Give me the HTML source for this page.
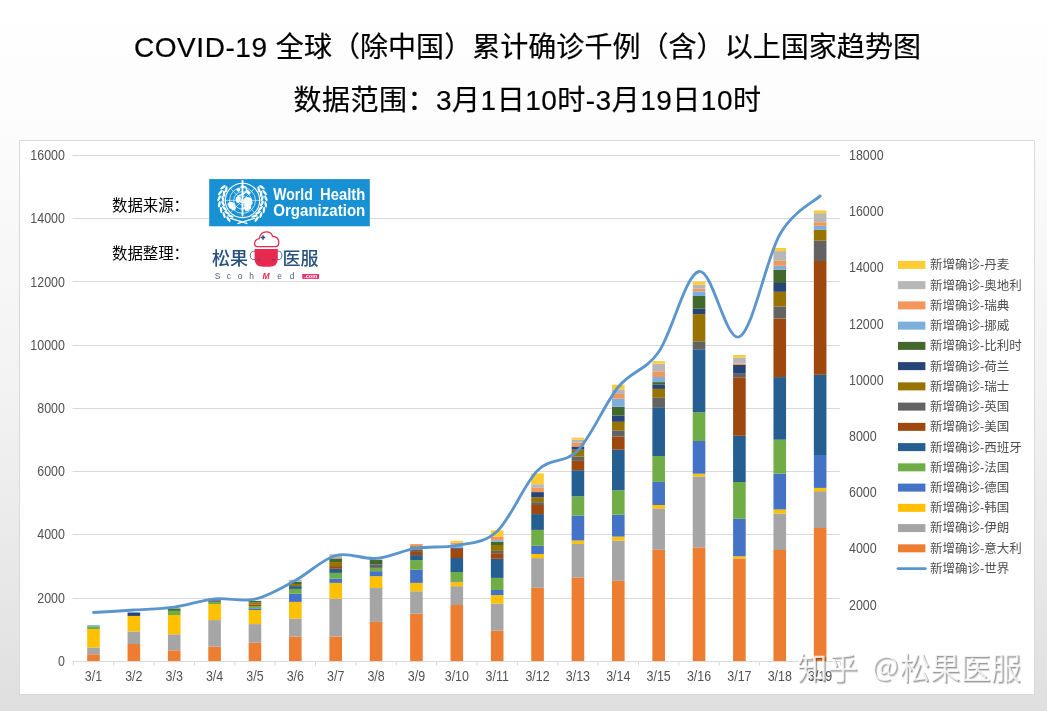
<!DOCTYPE html>
<html lang="zh"><head><meta charset="utf-8"><title>COVID-19</title>
<style>
html,body{margin:0;padding:0;}
body{width:1047px;height:711px;overflow:hidden;position:relative;background:linear-gradient(to bottom,#ffffff 0%,#fcfcfc 17%,#f2f2f2 56%,#e6e6e6 85%,#dfdfdf 100%);font-family:"Liberation Sans","Noto Sans CJK SC",sans-serif;}
.t1,.t2{position:absolute;left:0;width:1055px;text-align:center;color:#000;font-size:28px;white-space:nowrap;line-height:40px;-webkit-text-stroke:.2px #000;}
.t1{top:28.3px;letter-spacing:.05px;}
.t2{top:81px;letter-spacing:.5px;}
.box{position:absolute;left:19px;top:140px;width:1014px;height:553px;background:#fff;border:1px solid #D9D9D9;box-sizing:content-box;}
svg.c{position:absolute;left:0;top:0;}
.lab{position:absolute;font-size:15.4px;color:#000;line-height:20px;white-space:nowrap;}
.wm{position:absolute;top:644.2px;font-family:"Noto Sans CJK SC","Liberation Sans",sans-serif;font-size:30.4px;line-height:44px;color:rgba(255,255,255,.8);white-space:nowrap;text-shadow:1px 1px 0 rgba(0,0,0,.26),1.6px 1.6px 1px rgba(0,0,0,.22);opacity:.95;}
</style></head><body>
<div class="t1"><span style="letter-spacing:.55px">COVID-19 </span>全球（除中国）累计确诊千例（含）以上国家趋势图</div>
<div class="t2">数据范围：3月1日10时-3月19日10时</div>
<div class="box"></div>
<svg class="c" width="1047" height="711" viewBox="0 0 1047 711">
<line x1="72.5" y1="155.50" x2="840" y2="155.50" stroke="#D9D9D9" stroke-width="1"/>
<line x1="72.5" y1="218.50" x2="840" y2="218.50" stroke="#D9D9D9" stroke-width="1"/>
<line x1="72.5" y1="281.50" x2="840" y2="281.50" stroke="#D9D9D9" stroke-width="1"/>
<line x1="72.5" y1="345.50" x2="840" y2="345.50" stroke="#D9D9D9" stroke-width="1"/>
<line x1="72.5" y1="408.50" x2="840" y2="408.50" stroke="#D9D9D9" stroke-width="1"/>
<line x1="72.5" y1="471.50" x2="840" y2="471.50" stroke="#D9D9D9" stroke-width="1"/>
<line x1="72.5" y1="534.50" x2="840" y2="534.50" stroke="#D9D9D9" stroke-width="1"/>
<line x1="72.5" y1="598.50" x2="840" y2="598.50" stroke="#D9D9D9" stroke-width="1"/>
<line x1="72.5" y1="661.5" x2="840" y2="661.5" stroke="#D9D9D9" stroke-width="1"/>
<line x1="73.30" y1="661.00" x2="73.30" y2="665.60" stroke="#D9D9D9" stroke-width="1"/>
<line x1="113.67" y1="661.00" x2="113.67" y2="665.60" stroke="#D9D9D9" stroke-width="1"/>
<line x1="154.04" y1="661.00" x2="154.04" y2="665.60" stroke="#D9D9D9" stroke-width="1"/>
<line x1="194.41" y1="661.00" x2="194.41" y2="665.60" stroke="#D9D9D9" stroke-width="1"/>
<line x1="234.78" y1="661.00" x2="234.78" y2="665.60" stroke="#D9D9D9" stroke-width="1"/>
<line x1="275.15" y1="661.00" x2="275.15" y2="665.60" stroke="#D9D9D9" stroke-width="1"/>
<line x1="315.52" y1="661.00" x2="315.52" y2="665.60" stroke="#D9D9D9" stroke-width="1"/>
<line x1="355.89" y1="661.00" x2="355.89" y2="665.60" stroke="#D9D9D9" stroke-width="1"/>
<line x1="396.26" y1="661.00" x2="396.26" y2="665.60" stroke="#D9D9D9" stroke-width="1"/>
<line x1="436.63" y1="661.00" x2="436.63" y2="665.60" stroke="#D9D9D9" stroke-width="1"/>
<line x1="477.00" y1="661.00" x2="477.00" y2="665.60" stroke="#D9D9D9" stroke-width="1"/>
<line x1="517.37" y1="661.00" x2="517.37" y2="665.60" stroke="#D9D9D9" stroke-width="1"/>
<line x1="557.74" y1="661.00" x2="557.74" y2="665.60" stroke="#D9D9D9" stroke-width="1"/>
<line x1="598.11" y1="661.00" x2="598.11" y2="665.60" stroke="#D9D9D9" stroke-width="1"/>
<line x1="638.48" y1="661.00" x2="638.48" y2="665.60" stroke="#D9D9D9" stroke-width="1"/>
<line x1="678.85" y1="661.00" x2="678.85" y2="665.60" stroke="#D9D9D9" stroke-width="1"/>
<line x1="719.22" y1="661.00" x2="719.22" y2="665.60" stroke="#D9D9D9" stroke-width="1"/>
<line x1="759.59" y1="661.00" x2="759.59" y2="665.60" stroke="#D9D9D9" stroke-width="1"/>
<line x1="799.96" y1="661.00" x2="799.96" y2="665.60" stroke="#D9D9D9" stroke-width="1"/>
<line x1="840.33" y1="661.00" x2="840.33" y2="665.60" stroke="#D9D9D9" stroke-width="1"/>
<rect x="87.19" y="654.30" width="12.6" height="6.70" fill="#ED7D31"/>
<rect x="87.19" y="647.50" width="12.6" height="6.80" fill="#A5A5A5"/>
<rect x="87.19" y="629.10" width="12.6" height="18.40" fill="#FFC000"/>
<rect x="87.19" y="626.30" width="12.6" height="2.80" fill="#70AD47"/>
<rect x="87.19" y="625.10" width="12.6" height="1.20" fill="#7CAFDD"/>
<rect x="127.55" y="644.00" width="12.6" height="17.00" fill="#ED7D31"/>
<rect x="127.55" y="631.40" width="12.6" height="12.60" fill="#A5A5A5"/>
<rect x="127.55" y="615.90" width="12.6" height="15.50" fill="#FFC000"/>
<rect x="127.55" y="612.50" width="12.6" height="3.40" fill="#264478"/>
<rect x="167.92" y="650.30" width="12.6" height="10.70" fill="#ED7D31"/>
<rect x="167.92" y="634.30" width="12.6" height="16.00" fill="#A5A5A5"/>
<rect x="167.92" y="615.00" width="12.6" height="19.30" fill="#FFC000"/>
<rect x="167.92" y="610.80" width="12.6" height="4.20" fill="#70AD47"/>
<rect x="167.92" y="608.50" width="12.6" height="2.30" fill="#43682B"/>
<rect x="208.29" y="646.60" width="12.6" height="14.40" fill="#ED7D31"/>
<rect x="208.29" y="620.10" width="12.6" height="26.50" fill="#A5A5A5"/>
<rect x="208.29" y="604.00" width="12.6" height="16.10" fill="#FFC000"/>
<rect x="208.29" y="601.90" width="12.6" height="2.10" fill="#70AD47"/>
<rect x="208.29" y="600.20" width="12.6" height="1.70" fill="#636363"/>
<rect x="248.66" y="642.80" width="12.6" height="18.20" fill="#ED7D31"/>
<rect x="248.66" y="624.10" width="12.6" height="18.70" fill="#A5A5A5"/>
<rect x="248.66" y="610.00" width="12.6" height="14.10" fill="#FFC000"/>
<rect x="248.66" y="608.30" width="12.6" height="1.70" fill="#4472C4"/>
<rect x="248.66" y="606.10" width="12.6" height="2.20" fill="#70AD47"/>
<rect x="248.66" y="604.50" width="12.6" height="1.60" fill="#9E480E"/>
<rect x="248.66" y="602.50" width="12.6" height="2.00" fill="#997300"/>
<rect x="248.66" y="600.90" width="12.6" height="1.60" fill="#43682B"/>
<rect x="289.03" y="636.50" width="12.6" height="24.50" fill="#ED7D31"/>
<rect x="289.03" y="618.50" width="12.6" height="18.00" fill="#A5A5A5"/>
<rect x="289.03" y="601.90" width="12.6" height="16.60" fill="#FFC000"/>
<rect x="289.03" y="593.80" width="12.6" height="8.10" fill="#4472C4"/>
<rect x="289.03" y="588.90" width="12.6" height="4.90" fill="#70AD47"/>
<rect x="289.03" y="586.10" width="12.6" height="2.80" fill="#255E91"/>
<rect x="289.03" y="584.00" width="12.6" height="2.10" fill="#997300"/>
<rect x="289.03" y="581.90" width="12.6" height="2.10" fill="#43682B"/>
<rect x="289.03" y="579.80" width="12.6" height="2.10" fill="#B7B7B7"/>
<rect x="329.40" y="636.50" width="12.6" height="24.50" fill="#ED7D31"/>
<rect x="329.40" y="598.70" width="12.6" height="37.80" fill="#A5A5A5"/>
<rect x="329.40" y="582.90" width="12.6" height="15.80" fill="#FFC000"/>
<rect x="329.40" y="578.50" width="12.6" height="4.40" fill="#4472C4"/>
<rect x="329.40" y="572.90" width="12.6" height="5.60" fill="#70AD47"/>
<rect x="329.40" y="568.80" width="12.6" height="4.10" fill="#255E91"/>
<rect x="329.40" y="566.10" width="12.6" height="2.70" fill="#9E480E"/>
<rect x="329.40" y="562.10" width="12.6" height="4.00" fill="#997300"/>
<rect x="329.40" y="558.40" width="12.6" height="3.70" fill="#43682B"/>
<rect x="329.40" y="554.20" width="12.6" height="4.20" fill="#B7B7B7"/>
<rect x="369.77" y="621.90" width="12.6" height="39.10" fill="#ED7D31"/>
<rect x="369.77" y="588.00" width="12.6" height="33.90" fill="#A5A5A5"/>
<rect x="369.77" y="576.20" width="12.6" height="11.80" fill="#FFC000"/>
<rect x="369.77" y="571.20" width="12.6" height="5.00" fill="#4472C4"/>
<rect x="369.77" y="567.90" width="12.6" height="3.30" fill="#70AD47"/>
<rect x="369.77" y="564.30" width="12.6" height="3.60" fill="#636363"/>
<rect x="369.77" y="559.70" width="12.6" height="4.60" fill="#43682B"/>
<rect x="410.14" y="613.70" width="12.6" height="47.30" fill="#ED7D31"/>
<rect x="410.14" y="591.30" width="12.6" height="22.40" fill="#A5A5A5"/>
<rect x="410.14" y="582.90" width="12.6" height="8.40" fill="#FFC000"/>
<rect x="410.14" y="569.80" width="12.6" height="13.10" fill="#4472C4"/>
<rect x="410.14" y="560.10" width="12.6" height="9.70" fill="#70AD47"/>
<rect x="410.14" y="555.10" width="12.6" height="5.00" fill="#255E91"/>
<rect x="410.14" y="551.10" width="12.6" height="4.00" fill="#9E480E"/>
<rect x="410.14" y="549.50" width="12.6" height="1.60" fill="#636363"/>
<rect x="410.14" y="547.50" width="12.6" height="2.00" fill="#997300"/>
<rect x="410.14" y="546.30" width="12.6" height="1.20" fill="#43682B"/>
<rect x="410.14" y="544.10" width="12.6" height="2.20" fill="#F1975A"/>
<rect x="450.51" y="605.00" width="12.6" height="56.00" fill="#ED7D31"/>
<rect x="450.51" y="586.20" width="12.6" height="18.80" fill="#A5A5A5"/>
<rect x="450.51" y="582.10" width="12.6" height="4.10" fill="#FFC000"/>
<rect x="450.51" y="581.30" width="12.6" height="0.80" fill="#4472C4"/>
<rect x="450.51" y="572.00" width="12.6" height="9.30" fill="#70AD47"/>
<rect x="450.51" y="558.00" width="12.6" height="14.00" fill="#255E91"/>
<rect x="450.51" y="548.70" width="12.6" height="9.30" fill="#9E480E"/>
<rect x="450.51" y="547.60" width="12.6" height="1.10" fill="#264478"/>
<rect x="450.51" y="544.20" width="12.6" height="3.40" fill="#7CAFDD"/>
<rect x="450.51" y="542.50" width="12.6" height="1.70" fill="#F1975A"/>
<rect x="450.51" y="540.80" width="12.6" height="1.70" fill="#FFCD33"/>
<rect x="490.88" y="630.60" width="12.6" height="30.40" fill="#ED7D31"/>
<rect x="490.88" y="603.60" width="12.6" height="27.00" fill="#A5A5A5"/>
<rect x="490.88" y="595.10" width="12.6" height="8.50" fill="#FFC000"/>
<rect x="490.88" y="590.00" width="12.6" height="5.10" fill="#4472C4"/>
<rect x="490.88" y="577.90" width="12.6" height="12.10" fill="#70AD47"/>
<rect x="490.88" y="558.80" width="12.6" height="19.10" fill="#255E91"/>
<rect x="490.88" y="553.20" width="12.6" height="5.60" fill="#9E480E"/>
<rect x="490.88" y="550.90" width="12.6" height="2.30" fill="#636363"/>
<rect x="490.88" y="545.00" width="12.6" height="5.90" fill="#997300"/>
<rect x="490.88" y="541.90" width="12.6" height="3.10" fill="#43682B"/>
<rect x="490.88" y="540.20" width="12.6" height="1.70" fill="#7CAFDD"/>
<rect x="490.88" y="536.90" width="12.6" height="3.30" fill="#F1975A"/>
<rect x="490.88" y="530.30" width="12.6" height="6.60" fill="#FFCD33"/>
<rect x="531.25" y="587.80" width="12.6" height="73.20" fill="#ED7D31"/>
<rect x="531.25" y="558.10" width="12.6" height="29.70" fill="#A5A5A5"/>
<rect x="531.25" y="554.00" width="12.6" height="4.10" fill="#FFC000"/>
<rect x="531.25" y="545.80" width="12.6" height="8.20" fill="#4472C4"/>
<rect x="531.25" y="529.90" width="12.6" height="15.90" fill="#70AD47"/>
<rect x="531.25" y="514.10" width="12.6" height="15.80" fill="#255E91"/>
<rect x="531.25" y="505.00" width="12.6" height="9.10" fill="#9E480E"/>
<rect x="531.25" y="502.20" width="12.6" height="2.80" fill="#636363"/>
<rect x="531.25" y="497.30" width="12.6" height="4.90" fill="#997300"/>
<rect x="531.25" y="492.10" width="12.6" height="5.20" fill="#264478"/>
<rect x="531.25" y="487.80" width="12.6" height="4.30" fill="#F1975A"/>
<rect x="531.25" y="484.20" width="12.6" height="3.60" fill="#B7B7B7"/>
<rect x="531.25" y="473.40" width="12.6" height="10.80" fill="#FFCD33"/>
<rect x="571.62" y="577.40" width="12.6" height="83.60" fill="#ED7D31"/>
<rect x="571.62" y="543.90" width="12.6" height="33.50" fill="#A5A5A5"/>
<rect x="571.62" y="540.50" width="12.6" height="3.40" fill="#FFC000"/>
<rect x="571.62" y="515.60" width="12.6" height="24.90" fill="#4472C4"/>
<rect x="571.62" y="496.30" width="12.6" height="19.30" fill="#70AD47"/>
<rect x="571.62" y="470.20" width="12.6" height="26.10" fill="#255E91"/>
<rect x="571.62" y="460.90" width="12.6" height="9.30" fill="#9E480E"/>
<rect x="571.62" y="456.60" width="12.6" height="4.30" fill="#636363"/>
<rect x="571.62" y="449.60" width="12.6" height="7.00" fill="#997300"/>
<rect x="571.62" y="446.50" width="12.6" height="3.10" fill="#264478"/>
<rect x="571.62" y="442.50" width="12.6" height="4.00" fill="#F1975A"/>
<rect x="571.62" y="439.60" width="12.6" height="2.90" fill="#B7B7B7"/>
<rect x="571.62" y="437.70" width="12.6" height="1.90" fill="#FFCD33"/>
<rect x="612.00" y="580.80" width="12.6" height="80.20" fill="#ED7D31"/>
<rect x="612.00" y="540.50" width="12.6" height="40.30" fill="#A5A5A5"/>
<rect x="612.00" y="536.60" width="12.6" height="3.90" fill="#FFC000"/>
<rect x="612.00" y="514.70" width="12.6" height="21.90" fill="#4472C4"/>
<rect x="612.00" y="490.20" width="12.6" height="24.50" fill="#70AD47"/>
<rect x="612.00" y="449.70" width="12.6" height="40.50" fill="#255E91"/>
<rect x="612.00" y="436.50" width="12.6" height="13.20" fill="#9E480E"/>
<rect x="612.00" y="430.30" width="12.6" height="6.20" fill="#636363"/>
<rect x="612.00" y="421.80" width="12.6" height="8.50" fill="#997300"/>
<rect x="612.00" y="415.60" width="12.6" height="6.20" fill="#264478"/>
<rect x="612.00" y="406.80" width="12.6" height="8.80" fill="#43682B"/>
<rect x="612.00" y="398.60" width="12.6" height="8.20" fill="#7CAFDD"/>
<rect x="612.00" y="394.00" width="12.6" height="4.60" fill="#F1975A"/>
<rect x="612.00" y="389.30" width="12.6" height="4.70" fill="#B7B7B7"/>
<rect x="612.00" y="384.70" width="12.6" height="4.60" fill="#FFCD33"/>
<rect x="652.37" y="549.80" width="12.6" height="111.20" fill="#ED7D31"/>
<rect x="652.37" y="508.40" width="12.6" height="41.40" fill="#A5A5A5"/>
<rect x="652.37" y="505.00" width="12.6" height="3.40" fill="#FFC000"/>
<rect x="652.37" y="481.90" width="12.6" height="23.10" fill="#4472C4"/>
<rect x="652.37" y="456.00" width="12.6" height="25.90" fill="#70AD47"/>
<rect x="652.37" y="407.90" width="12.6" height="48.10" fill="#255E91"/>
<rect x="652.37" y="397.80" width="12.6" height="10.10" fill="#636363"/>
<rect x="652.37" y="388.90" width="12.6" height="8.90" fill="#997300"/>
<rect x="652.37" y="384.70" width="12.6" height="4.20" fill="#264478"/>
<rect x="652.37" y="382.10" width="12.6" height="2.60" fill="#43682B"/>
<rect x="652.37" y="377.00" width="12.6" height="5.10" fill="#7CAFDD"/>
<rect x="652.37" y="371.30" width="12.6" height="5.70" fill="#F1975A"/>
<rect x="652.37" y="363.60" width="12.6" height="7.70" fill="#B7B7B7"/>
<rect x="652.37" y="361.20" width="12.6" height="2.40" fill="#FFCD33"/>
<rect x="692.74" y="547.40" width="12.6" height="113.60" fill="#ED7D31"/>
<rect x="692.74" y="476.40" width="12.6" height="71.00" fill="#A5A5A5"/>
<rect x="692.74" y="473.70" width="12.6" height="2.70" fill="#FFC000"/>
<rect x="692.74" y="441.00" width="12.6" height="32.70" fill="#4472C4"/>
<rect x="692.74" y="412.30" width="12.6" height="28.70" fill="#70AD47"/>
<rect x="692.74" y="349.30" width="12.6" height="63.00" fill="#255E91"/>
<rect x="692.74" y="341.30" width="12.6" height="8.00" fill="#636363"/>
<rect x="692.74" y="314.10" width="12.6" height="27.20" fill="#997300"/>
<rect x="692.74" y="308.70" width="12.6" height="5.40" fill="#264478"/>
<rect x="692.74" y="296.00" width="12.6" height="12.70" fill="#43682B"/>
<rect x="692.74" y="291.30" width="12.6" height="4.70" fill="#7CAFDD"/>
<rect x="692.74" y="288.60" width="12.6" height="2.70" fill="#F1975A"/>
<rect x="692.74" y="284.70" width="12.6" height="3.90" fill="#B7B7B7"/>
<rect x="692.74" y="281.60" width="12.6" height="3.10" fill="#FFCD33"/>
<rect x="733.10" y="558.40" width="12.6" height="102.60" fill="#ED7D31"/>
<rect x="733.10" y="556.30" width="12.6" height="2.10" fill="#FFC000"/>
<rect x="733.10" y="518.80" width="12.6" height="37.50" fill="#4472C4"/>
<rect x="733.10" y="482.00" width="12.6" height="36.80" fill="#70AD47"/>
<rect x="733.10" y="435.80" width="12.6" height="46.20" fill="#255E91"/>
<rect x="733.10" y="377.30" width="12.6" height="58.50" fill="#9E480E"/>
<rect x="733.10" y="373.70" width="12.6" height="3.60" fill="#636363"/>
<rect x="733.10" y="365.00" width="12.6" height="8.70" fill="#264478"/>
<rect x="733.10" y="363.50" width="12.6" height="1.50" fill="#F1975A"/>
<rect x="733.10" y="357.50" width="12.6" height="6.00" fill="#B7B7B7"/>
<rect x="733.10" y="355.00" width="12.6" height="2.50" fill="#FFCD33"/>
<rect x="773.47" y="550.00" width="12.6" height="111.00" fill="#ED7D31"/>
<rect x="773.47" y="513.50" width="12.6" height="36.50" fill="#A5A5A5"/>
<rect x="773.47" y="509.50" width="12.6" height="4.00" fill="#FFC000"/>
<rect x="773.47" y="473.70" width="12.6" height="35.80" fill="#4472C4"/>
<rect x="773.47" y="439.70" width="12.6" height="34.00" fill="#70AD47"/>
<rect x="773.47" y="377.10" width="12.6" height="62.60" fill="#255E91"/>
<rect x="773.47" y="318.50" width="12.6" height="58.60" fill="#9E480E"/>
<rect x="773.47" y="306.50" width="12.6" height="12.00" fill="#636363"/>
<rect x="773.47" y="291.80" width="12.6" height="14.70" fill="#997300"/>
<rect x="773.47" y="283.00" width="12.6" height="8.80" fill="#264478"/>
<rect x="773.47" y="269.60" width="12.6" height="13.40" fill="#43682B"/>
<rect x="773.47" y="265.80" width="12.6" height="3.80" fill="#7CAFDD"/>
<rect x="773.47" y="260.80" width="12.6" height="5.00" fill="#F1975A"/>
<rect x="773.47" y="251.10" width="12.6" height="9.70" fill="#B7B7B7"/>
<rect x="773.47" y="248.00" width="12.6" height="3.10" fill="#FFCD33"/>
<rect x="813.84" y="528.00" width="12.6" height="133.00" fill="#ED7D31"/>
<rect x="813.84" y="491.20" width="12.6" height="36.80" fill="#A5A5A5"/>
<rect x="813.84" y="487.90" width="12.6" height="3.30" fill="#FFC000"/>
<rect x="813.84" y="455.00" width="12.6" height="32.90" fill="#4472C4"/>
<rect x="813.84" y="374.80" width="12.6" height="80.20" fill="#255E91"/>
<rect x="813.84" y="261.00" width="12.6" height="113.80" fill="#9E480E"/>
<rect x="813.84" y="240.70" width="12.6" height="20.30" fill="#636363"/>
<rect x="813.84" y="229.90" width="12.6" height="10.80" fill="#997300"/>
<rect x="813.84" y="225.90" width="12.6" height="4.00" fill="#7CAFDD"/>
<rect x="813.84" y="222.20" width="12.6" height="3.70" fill="#F1975A"/>
<rect x="813.84" y="213.20" width="12.6" height="9.00" fill="#B7B7B7"/>
<rect x="813.84" y="210.40" width="12.6" height="2.80" fill="#FFCD33"/>
<path d="M93.48,612.50 C100.21,612.08 120.40,610.90 133.85,610.00 C147.31,609.10 160.77,608.97 174.22,607.10 C187.68,605.23 201.14,600.12 214.59,598.80 C228.05,597.48 241.51,602.25 254.96,599.20 C268.42,596.15 281.88,587.78 295.33,580.50 C308.79,573.22 322.25,559.18 335.70,555.50 C349.16,551.82 362.62,559.62 376.07,558.40 C389.53,557.18 402.99,550.38 416.44,548.20 C429.90,546.02 443.36,548.12 456.81,545.30 C470.27,542.48 483.73,543.77 497.19,531.30 C510.64,518.83 524.10,483.98 537.55,470.50 C551.01,457.02 564.47,464.32 577.92,450.40 C591.38,436.48 604.84,403.40 618.29,387.00 C631.75,370.60 645.21,371.25 658.66,352.00 C672.12,332.75 685.58,274.05 699.03,271.50 C712.49,268.95 725.95,342.87 739.40,336.70 C752.86,330.53 766.32,257.97 779.77,234.50 C793.23,211.03 813.42,202.33 820.14,195.90" fill="none" stroke="#5A95CE" stroke-width="2.85" stroke-linecap="round" stroke-linejoin="round"/>
<text transform="translate(64.90,160.10) scale(0.889,1)" text-anchor="end" font-family="Liberation Sans, sans-serif" font-size="14" fill="#525252">16000</text>
<text transform="translate(64.90,223.30) scale(0.889,1)" text-anchor="end" font-family="Liberation Sans, sans-serif" font-size="14" fill="#525252">14000</text>
<text transform="translate(64.90,286.50) scale(0.889,1)" text-anchor="end" font-family="Liberation Sans, sans-serif" font-size="14" fill="#525252">12000</text>
<text transform="translate(64.90,349.70) scale(0.889,1)" text-anchor="end" font-family="Liberation Sans, sans-serif" font-size="14" fill="#525252">10000</text>
<text transform="translate(64.90,412.90) scale(0.889,1)" text-anchor="end" font-family="Liberation Sans, sans-serif" font-size="14" fill="#525252">8000</text>
<text transform="translate(64.90,476.10) scale(0.889,1)" text-anchor="end" font-family="Liberation Sans, sans-serif" font-size="14" fill="#525252">6000</text>
<text transform="translate(64.90,539.30) scale(0.889,1)" text-anchor="end" font-family="Liberation Sans, sans-serif" font-size="14" fill="#525252">4000</text>
<text transform="translate(64.90,602.50) scale(0.889,1)" text-anchor="end" font-family="Liberation Sans, sans-serif" font-size="14" fill="#525252">2000</text>
<text transform="translate(64.90,665.70) scale(0.889,1)" text-anchor="end" font-family="Liberation Sans, sans-serif" font-size="14" fill="#525252">0</text>
<text transform="translate(849.00,160.10) scale(0.889,1)" text-anchor="start" font-family="Liberation Sans, sans-serif" font-size="14" fill="#525252">18000</text>
<text transform="translate(849.00,216.28) scale(0.889,1)" text-anchor="start" font-family="Liberation Sans, sans-serif" font-size="14" fill="#525252">16000</text>
<text transform="translate(849.00,272.46) scale(0.889,1)" text-anchor="start" font-family="Liberation Sans, sans-serif" font-size="14" fill="#525252">14000</text>
<text transform="translate(849.00,328.63) scale(0.889,1)" text-anchor="start" font-family="Liberation Sans, sans-serif" font-size="14" fill="#525252">12000</text>
<text transform="translate(849.00,384.81) scale(0.889,1)" text-anchor="start" font-family="Liberation Sans, sans-serif" font-size="14" fill="#525252">10000</text>
<text transform="translate(849.00,440.99) scale(0.889,1)" text-anchor="start" font-family="Liberation Sans, sans-serif" font-size="14" fill="#525252">8000</text>
<text transform="translate(849.00,497.17) scale(0.889,1)" text-anchor="start" font-family="Liberation Sans, sans-serif" font-size="14" fill="#525252">6000</text>
<text transform="translate(849.00,553.34) scale(0.889,1)" text-anchor="start" font-family="Liberation Sans, sans-serif" font-size="14" fill="#525252">4000</text>
<text transform="translate(849.00,609.52) scale(0.889,1)" text-anchor="start" font-family="Liberation Sans, sans-serif" font-size="14" fill="#525252">2000</text>
<text transform="translate(93.48,681.00) scale(0.889,1)" text-anchor="middle" font-family="Liberation Sans, sans-serif" font-size="14" fill="#525252">3/1</text>
<text transform="translate(133.85,681.00) scale(0.889,1)" text-anchor="middle" font-family="Liberation Sans, sans-serif" font-size="14" fill="#525252">3/2</text>
<text transform="translate(174.22,681.00) scale(0.889,1)" text-anchor="middle" font-family="Liberation Sans, sans-serif" font-size="14" fill="#525252">3/3</text>
<text transform="translate(214.59,681.00) scale(0.889,1)" text-anchor="middle" font-family="Liberation Sans, sans-serif" font-size="14" fill="#525252">3/4</text>
<text transform="translate(254.96,681.00) scale(0.889,1)" text-anchor="middle" font-family="Liberation Sans, sans-serif" font-size="14" fill="#525252">3/5</text>
<text transform="translate(295.33,681.00) scale(0.889,1)" text-anchor="middle" font-family="Liberation Sans, sans-serif" font-size="14" fill="#525252">3/6</text>
<text transform="translate(335.70,681.00) scale(0.889,1)" text-anchor="middle" font-family="Liberation Sans, sans-serif" font-size="14" fill="#525252">3/7</text>
<text transform="translate(376.07,681.00) scale(0.889,1)" text-anchor="middle" font-family="Liberation Sans, sans-serif" font-size="14" fill="#525252">3/8</text>
<text transform="translate(416.44,681.00) scale(0.889,1)" text-anchor="middle" font-family="Liberation Sans, sans-serif" font-size="14" fill="#525252">3/9</text>
<text transform="translate(456.81,681.00) scale(0.889,1)" text-anchor="middle" font-family="Liberation Sans, sans-serif" font-size="14" fill="#525252">3/10</text>
<text transform="translate(497.19,681.00) scale(0.889,1)" text-anchor="middle" font-family="Liberation Sans, sans-serif" font-size="14" fill="#525252">3/11</text>
<text transform="translate(537.55,681.00) scale(0.889,1)" text-anchor="middle" font-family="Liberation Sans, sans-serif" font-size="14" fill="#525252">3/12</text>
<text transform="translate(577.92,681.00) scale(0.889,1)" text-anchor="middle" font-family="Liberation Sans, sans-serif" font-size="14" fill="#525252">3/13</text>
<text transform="translate(618.29,681.00) scale(0.889,1)" text-anchor="middle" font-family="Liberation Sans, sans-serif" font-size="14" fill="#525252">3/14</text>
<text transform="translate(658.66,681.00) scale(0.889,1)" text-anchor="middle" font-family="Liberation Sans, sans-serif" font-size="14" fill="#525252">3/15</text>
<text transform="translate(699.03,681.00) scale(0.889,1)" text-anchor="middle" font-family="Liberation Sans, sans-serif" font-size="14" fill="#525252">3/16</text>
<text transform="translate(739.40,681.00) scale(0.889,1)" text-anchor="middle" font-family="Liberation Sans, sans-serif" font-size="14" fill="#525252">3/17</text>
<text transform="translate(779.77,681.00) scale(0.889,1)" text-anchor="middle" font-family="Liberation Sans, sans-serif" font-size="14" fill="#525252">3/18</text>
<text transform="translate(820.14,681.00) scale(0.889,1)" text-anchor="middle" font-family="Liberation Sans, sans-serif" font-size="14" fill="#525252">3/19</text>
<rect x="898" y="260.90" width="27.4" height="8" fill="#FFCD33"/>
<text x="930" y="269.30" font-family="Liberation Sans, Noto Sans CJK SC, sans-serif" font-size="12.5" fill="#4f4f4f">新增确诊-丹麦</text>
<rect x="898" y="281.14" width="27.4" height="8" fill="#B7B7B7"/>
<text x="930" y="289.54" font-family="Liberation Sans, Noto Sans CJK SC, sans-serif" font-size="12.5" fill="#4f4f4f">新增确诊-奥地利</text>
<rect x="898" y="301.39" width="27.4" height="8" fill="#F1975A"/>
<text x="930" y="309.79" font-family="Liberation Sans, Noto Sans CJK SC, sans-serif" font-size="12.5" fill="#4f4f4f">新增确诊-瑞典</text>
<rect x="898" y="321.63" width="27.4" height="8" fill="#7CAFDD"/>
<text x="930" y="330.03" font-family="Liberation Sans, Noto Sans CJK SC, sans-serif" font-size="12.5" fill="#4f4f4f">新增确诊-挪威</text>
<rect x="898" y="341.88" width="27.4" height="8" fill="#43682B"/>
<text x="930" y="350.28" font-family="Liberation Sans, Noto Sans CJK SC, sans-serif" font-size="12.5" fill="#4f4f4f">新增确诊-比利时</text>
<rect x="898" y="362.12" width="27.4" height="8" fill="#264478"/>
<text x="930" y="370.52" font-family="Liberation Sans, Noto Sans CJK SC, sans-serif" font-size="12.5" fill="#4f4f4f">新增确诊-荷兰</text>
<rect x="898" y="382.37" width="27.4" height="8" fill="#997300"/>
<text x="930" y="390.77" font-family="Liberation Sans, Noto Sans CJK SC, sans-serif" font-size="12.5" fill="#4f4f4f">新增确诊-瑞士</text>
<rect x="898" y="402.62" width="27.4" height="8" fill="#636363"/>
<text x="930" y="411.01" font-family="Liberation Sans, Noto Sans CJK SC, sans-serif" font-size="12.5" fill="#4f4f4f">新增确诊-英国</text>
<rect x="898" y="422.86" width="27.4" height="8" fill="#9E480E"/>
<text x="930" y="431.26" font-family="Liberation Sans, Noto Sans CJK SC, sans-serif" font-size="12.5" fill="#4f4f4f">新增确诊-美国</text>
<rect x="898" y="443.11" width="27.4" height="8" fill="#255E91"/>
<text x="930" y="451.50" font-family="Liberation Sans, Noto Sans CJK SC, sans-serif" font-size="12.5" fill="#4f4f4f">新增确诊-西班牙</text>
<rect x="898" y="463.35" width="27.4" height="8" fill="#70AD47"/>
<text x="930" y="471.75" font-family="Liberation Sans, Noto Sans CJK SC, sans-serif" font-size="12.5" fill="#4f4f4f">新增确诊-法国</text>
<rect x="898" y="483.60" width="27.4" height="8" fill="#4472C4"/>
<text x="930" y="492.00" font-family="Liberation Sans, Noto Sans CJK SC, sans-serif" font-size="12.5" fill="#4f4f4f">新增确诊-德国</text>
<rect x="898" y="503.84" width="27.4" height="8" fill="#FFC000"/>
<text x="930" y="512.24" font-family="Liberation Sans, Noto Sans CJK SC, sans-serif" font-size="12.5" fill="#4f4f4f">新增确诊-韩国</text>
<rect x="898" y="524.09" width="27.4" height="8" fill="#A5A5A5"/>
<text x="930" y="532.49" font-family="Liberation Sans, Noto Sans CJK SC, sans-serif" font-size="12.5" fill="#4f4f4f">新增确诊-伊朗</text>
<rect x="898" y="544.33" width="27.4" height="8" fill="#ED7D31"/>
<text x="930" y="552.73" font-family="Liberation Sans, Noto Sans CJK SC, sans-serif" font-size="12.5" fill="#4f4f4f">新增确诊-意大利</text>
<line x1="898" y1="568.58" x2="925.4" y2="568.58" stroke="#5A95CE" stroke-width="2.85" stroke-linecap="round"/>
<text x="930" y="572.98" font-family="Liberation Sans, Noto Sans CJK SC, sans-serif" font-size="12.5" fill="#4f4f4f">新增确诊-世界</text>
<rect x="209.2" y="179.1" width="160.6" height="47.2" fill="#1790D4"/>
<g fill="none" stroke="#fff">
<circle cx="242.5" cy="200.4" r="17.2" stroke-width="1.1"/>
<circle cx="242.5" cy="200.4" r="13.0" stroke-width="0.7"/>
<circle cx="242.5" cy="200.4" r="8.8" stroke-width="0.7"/>
<circle cx="242.5" cy="200.4" r="4.6" stroke-width="0.6"/>
<line x1="225.30" y1="200.40" x2="259.70" y2="200.40" stroke-width=".6"/>
<line x1="230.34" y1="188.24" x2="254.66" y2="212.56" stroke-width=".6"/>
<line x1="242.50" y1="183.20" x2="242.50" y2="217.60" stroke-width=".6"/>
<line x1="254.66" y1="188.24" x2="230.34" y2="212.56" stroke-width=".6"/>
</g>
<g fill="#fff" opacity=".95">
<path d="M227.8,203.2 q2.6,-2.2 5.4,-.8 q2.2,1 1.8,3.4 q1.6,1.6 .4,3.4 q-1.8,1.8 -3.6,.2 q-2.8,-.4 -3.2,-2.6 q-1.6,-1.6 -.8,-3.6z"/>
<path d="M244.6,198.4 q3,-2.4 5.6,-.6 q2.4,.8 2,3.4 q1.2,2.6 -1,4 q.6,3 -1.8,4.6 q-1.6,2.4 -3.8,1.2 q-1.6,-1.4 -.8,-3.6 q-1.4,-1.6 -.2,-3.4 q-1.6,-3.2 0,-5.600z"/>
<path d="M236,197.6 q2.2,-2 4.4,-.6 q1.4,2.400 -.4,4.2 q-1.400,2.600 -3.400,1.400 q-1.800,-2.400 -.6,-5z"/>
<path d="M236.2,189.6 q1.8,-2 3.8,-1.200 q.8,1.800 -1,3 q-2,1.200 -2.800,-1.800z"/>
<path d="M246,189.8 q2.400,-.6 3.400,1.400 q1.800,1.400 .6,3 q-2.200,.4 -3.200,-1.400 q-1.600,-1.200 -.8,-3z"/>
</g>
<line x1="242.5" y1="180.2" x2="242.5" y2="215.8" stroke="#fff" stroke-width="1.9"/>
<path d="M241.2,186.4 q5.600,-.6 5.400,3.400 q-.2,3.600 -5.400,4.800 q-4.400,1.400 -3.600,4.400 q.8,2.800 5.600,3.200 q3.800,.8 3.200,3.400 q-.6,2.200 -4.200,2.800" fill="none" stroke="#fff" stroke-width="1.5" stroke-linecap="round"/>
<g fill="#fff">
<ellipse cx="230.64" cy="216.13" rx="3.2" ry="1.2" transform="rotate(197.0 230.64 216.13)"/>
<ellipse cx="228.36" cy="219.17" rx="3.2" ry="1.2" transform="rotate(237.0 228.36 219.17)"/>
<ellipse cx="227.08" cy="212.66" rx="3.2" ry="1.2" transform="rotate(211.5 227.08 212.66)"/>
<ellipse cx="224.11" cy="215.03" rx="3.2" ry="1.2" transform="rotate(251.5 224.11 215.03)"/>
<ellipse cx="224.50" cy="208.41" rx="3.2" ry="1.2" transform="rotate(226.0 224.50 208.41)"/>
<ellipse cx="221.03" cy="209.96" rx="3.2" ry="1.2" transform="rotate(266.0 221.03 209.96)"/>
<ellipse cx="223.07" cy="203.65" rx="3.2" ry="1.2" transform="rotate(240.5 223.07 203.65)"/>
<ellipse cx="219.32" cy="204.28" rx="3.2" ry="1.2" transform="rotate(280.5 219.32 204.28)"/>
<ellipse cx="222.87" cy="198.68" rx="3.2" ry="1.2" transform="rotate(255.0 222.87 198.68)"/>
<ellipse cx="219.09" cy="198.35" rx="3.2" ry="1.2" transform="rotate(295.0 219.09 198.35)"/>
<ellipse cx="223.93" cy="193.82" rx="3.2" ry="1.2" transform="rotate(269.5 223.93 193.82)"/>
<ellipse cx="220.35" cy="192.56" rx="3.2" ry="1.2" transform="rotate(309.5 220.35 192.56)"/>
<ellipse cx="226.17" cy="189.38" rx="3.2" ry="1.2" transform="rotate(284.0 226.17 189.38)"/>
<ellipse cx="223.02" cy="187.26" rx="3.2" ry="1.2" transform="rotate(324.0 223.02 187.26)"/>
<ellipse cx="254.36" cy="216.13" rx="3.2" ry="1.2" transform="rotate(-17.0 254.36 216.13)"/>
<ellipse cx="256.64" cy="219.17" rx="3.2" ry="1.2" transform="rotate(-57.0 256.64 219.17)"/>
<ellipse cx="257.92" cy="212.66" rx="3.2" ry="1.2" transform="rotate(-31.5 257.92 212.66)"/>
<ellipse cx="260.89" cy="215.03" rx="3.2" ry="1.2" transform="rotate(-71.5 260.89 215.03)"/>
<ellipse cx="260.50" cy="208.41" rx="3.2" ry="1.2" transform="rotate(-46.0 260.50 208.41)"/>
<ellipse cx="263.97" cy="209.96" rx="3.2" ry="1.2" transform="rotate(-86.0 263.97 209.96)"/>
<ellipse cx="261.93" cy="203.65" rx="3.2" ry="1.2" transform="rotate(-60.5 261.93 203.65)"/>
<ellipse cx="265.68" cy="204.28" rx="3.2" ry="1.2" transform="rotate(-100.5 265.68 204.28)"/>
<ellipse cx="262.13" cy="198.68" rx="3.2" ry="1.2" transform="rotate(-75.0 262.13 198.68)"/>
<ellipse cx="265.91" cy="198.35" rx="3.2" ry="1.2" transform="rotate(-115.0 265.91 198.35)"/>
<ellipse cx="261.07" cy="193.82" rx="3.2" ry="1.2" transform="rotate(-89.5 261.07 193.82)"/>
<ellipse cx="264.65" cy="192.56" rx="3.2" ry="1.2" transform="rotate(-129.5 264.65 192.56)"/>
<ellipse cx="258.83" cy="189.38" rx="3.2" ry="1.2" transform="rotate(-104.0 258.83 189.38)"/>
<ellipse cx="261.98" cy="187.26" rx="3.2" ry="1.2" transform="rotate(-144.0 261.98 187.26)"/>
</g>
<path d="M230.6,218.4 Q238,220.6 246.8,223.4 M254.4,218.4 Q247,220.6 238.2,223.400" fill="none" stroke="#fff" stroke-width="1.5" stroke-linecap="round"/>
<text x="273.3" y="199.9" textLength="39.4" lengthAdjust="spacingAndGlyphs" font-family="Liberation Sans, sans-serif" font-weight="bold" font-size="17.3" fill="#fff">World</text>
<text x="320.1" y="199.9" textLength="45.2" lengthAdjust="spacingAndGlyphs" font-family="Liberation Sans, sans-serif" font-weight="bold" font-size="17.3" fill="#fff">Health</text>
<text x="273.3" y="215.9" textLength="92" lengthAdjust="spacingAndGlyphs" font-family="Liberation Sans, sans-serif" font-weight="bold" font-size="17.3" fill="#fff">Organization</text>
<text x="212.0" y="264.6" font-family="Liberation Sans, Noto Sans CJK SC, sans-serif" font-weight="500" font-size="18" fill="#27527F">松果</text>
<text x="282.4" y="264.6" font-family="Liberation Sans, Noto Sans CJK SC, sans-serif" font-weight="500" font-size="18" fill="#27527F">医服</text>
<ellipse cx="254.0" cy="255.4" rx="3.7" ry="4.2" fill="none" stroke="#27527F" stroke-width=".8"/>
<ellipse cx="278.2" cy="255.4" rx="3.7" ry="4.2" fill="none" stroke="#27527F" stroke-width=".8"/>
<path d="M254.6,248.9 H277.8 V258.4 Q277.8,266.8 269.4,266.8 H263 Q254.6,266.8 254.6,258.400 Z" fill="#E8294F"/>
<path d="M257.2,259.8 h3.2 M271.8,259.8 h3.2" stroke="#27527F" stroke-width=".8" fill="none"/>
<path d="M257.6,246.6 Q254.4,246.6 254.6,243.4 Q254.8,239.6 259.2,238.6 Q260.4,231.8 266.4,231.8 Q271.4,231.8 272.6,236.4 Q278.6,236.6 278.8,242.2 Q279,246.6 275.4,246.6 Z" fill="#fff" stroke="#E8294F" stroke-width="1.3" stroke-linejoin="round"/>
<path d="M260.8,237.5 h4.4 M263,235.300 v4.400" stroke="#27527F" stroke-width="1.5" fill="none"/>
<text x="217.5" y="278.7" font-family="Liberation Sans, sans-serif" font-size="8.4" fill="#4E6284" text-anchor="middle">S</text>
<text x="228.9" y="278.7" font-family="Liberation Sans, sans-serif" font-size="8.4" fill="#4E6284" text-anchor="middle">c</text>
<text x="240.2" y="278.7" font-family="Liberation Sans, sans-serif" font-size="8.4" fill="#4E6284" text-anchor="middle">o</text>
<text x="251.6" y="278.7" font-family="Liberation Sans, sans-serif" font-size="8.4" fill="#4E6284" text-anchor="middle">h</text>
<text x="266" y="278.7" font-family="Liberation Sans, sans-serif" font-size="8.5" font-style="italic" font-weight="bold" fill="#E8294F" text-anchor="middle">M</text>
<text x="279.6" y="278.7" font-family="Liberation Sans, sans-serif" font-size="8.4" fill="#4E6284" text-anchor="middle">e</text>
<text x="292.2" y="278.7" font-family="Liberation Sans, sans-serif" font-size="8.4" fill="#4E6284" text-anchor="middle">d</text>
<rect x="302.3" y="274" width="16.8" height="4.9" fill="#E8336A"/>
<text x="310.7" y="277.9" font-family="Liberation Sans, sans-serif" font-size="4.6" font-weight="bold" fill="#fff" text-anchor="middle" textLength="13" lengthAdjust="spacingAndGlyphs">.com</text>
</svg>
<div class="lab" style="left:112px;top:195.8px;">数据来源：</div>
<div class="lab" style="left:112px;top:244px;">数据整理：</div>
<div class="wm" style="left:797px;">知乎</div>
<div class="wm" style="left:871.8px;font-size:28px;top:642px;">@</div>
<div class="wm" style="left:899.4px;">松果医服</div>
</body></html>
